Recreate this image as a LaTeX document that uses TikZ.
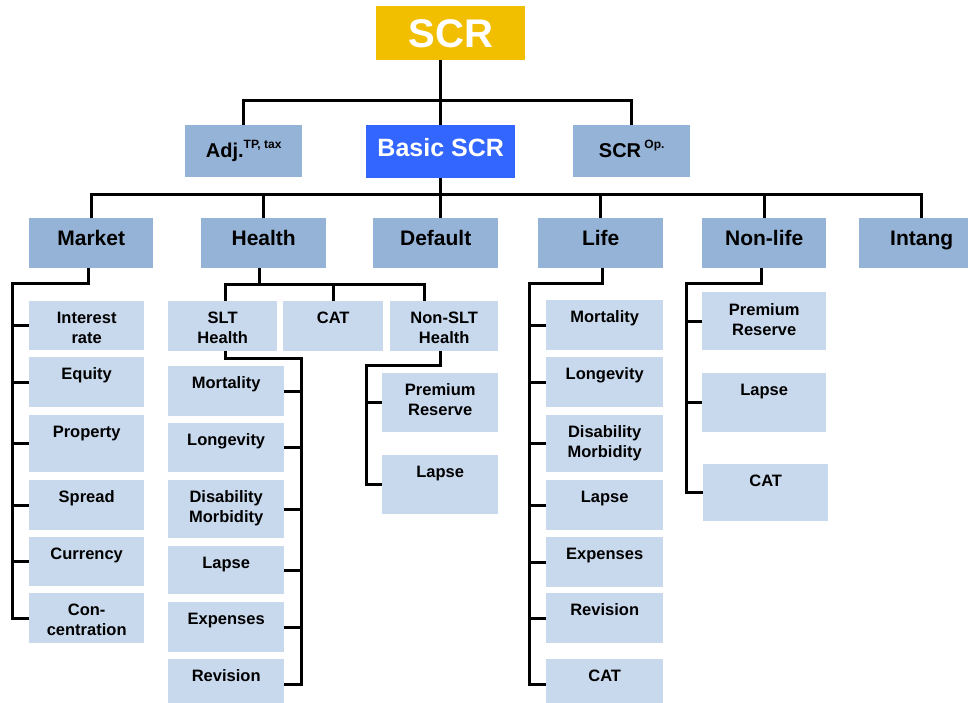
\documentclass[tikz,border=0pt]{standalone}
\usepackage{fontspec}
\setmainfont{Liberation Sans}
\usepackage{tikz}
\usetikzlibrary{calc}
\definecolor{scrgold}{HTML}{F2BE00}
\definecolor{basicblue}{HTML}{3366FF}
\definecolor{modfill}{HTML}{95B3D7}
\definecolor{subfill}{HTML}{C9D9ED}
\newcommand{\upidx}[1]{\raisebox{9.5pt}{\fontsize{12}{12}\selectfont #1}}

\begin{document}
\begin{tikzpicture}[x=1pt, y=-1pt,
  font=\bfseries,
  bx/.style={anchor=north west, inner sep=0pt, align=center},
  top/.style={bx, fill=modfill, minimum width=117pt, text height=32.5pt, text depth=19.5pt,
    font=\fontsize{20}{24}\selectfont\bfseries},
  mod/.style={bx, fill=modfill, minimum width=125pt, text height=27pt, text depth=23pt,
    font=\fontsize{21}{25}\selectfont\bfseries},
  kid/.style={bx, fill=subfill, minimum width=116pt, text height=22pt, text depth=#1,
    font=\fontsize{16.5}{20.5}\selectfont\bfseries},
  kid/.default=28pt,
  twoline/.style={text height=42.5pt, text depth=#1},
  wire/.style={line width=3pt}]
\useasboundingbox (0,0) rectangle (968,702);

% top levels
\node[bx, fill=scrgold, text=white, minimum width=149pt, text height=41pt, text depth=13pt,
  font=\fontsize{40}{44}\selectfont\bfseries](scr) at (376,6) {SCR};
\node[top](adj) at (185,125) {Adj.\upidx{TP, tax}};
\node[bx, fill=basicblue, text=white, minimum width=149pt, text height=31.5pt, text depth=21.5pt,
  font=\fontsize{25}{29}\selectfont\bfseries](basic) at (366,125) {Basic SCR};
\node[top](op) at (573,125) {SCR\,\upidx{Op.}};

\node[mod, minimum width=124pt](market) at (29,218) {Market};
\node[mod](health) at (201,218) {Health};
\node[mod](default) at (373,218) {Default};
\node[mod](life) at (538,218) {Life};
\node[mod, minimum width=124pt](nonlife) at (702,218) {Non-life};
\node[mod](intang) at (859,218) {Intang};

% market
\node[kid, twoline=6.5pt, minimum width=115pt](mk1) at (29,301) {Interest\\rate};
\node[kid, minimum width=115pt](mk2) at (29,357) {Equity};
\node[kid=35pt, minimum width=115pt](mk3) at (29,415) {Property};
\node[kid, minimum width=115pt](mk4) at (29,480) {Spread};
\node[kid=27pt, minimum width=115pt](mk5) at (29,537) {Currency};
\node[kid, twoline=7.5pt, minimum width=115pt](mk6) at (29,593) {Con-\\centration};

% health
\node[kid, twoline=7.5pt, minimum width=109pt](slt) at (168,301) {SLT\\Health};
\node[kid, minimum width=100pt](hcat) at (283,301) {CAT};
\node[kid, twoline=7.5pt, minimum width=108pt](nslt) at (390,301) {Non-SLT\\Health};

\node[kid](sl1) at (168,366) {Mortality};
\node[kid=27pt](sl2) at (168,423) {Longevity};
\node[kid, twoline=15.5pt](sl3) at (168,480) {Disability\\Morbidity};
\node[kid=26pt](sl4) at (168,546) {Lapse};
\node[kid](sl5) at (168,602) {Expenses};
\node[kid](sl6) at (168,659) {Revision};

\node[kid, twoline=16.5pt](ns1) at (382,373) {Premium\\Reserve};
\node[kid=37pt](ns2) at (382,455) {Lapse};

% life
\node[kid, minimum width=117pt](lf1) at (546,300) {Mortality};
\node[kid, minimum width=117pt](lf2) at (546,357) {Longevity};
\node[kid, twoline=14.5pt, minimum width=117pt](lf3) at (546,415) {Disability\\Morbidity};
\node[kid, minimum width=117pt](lf4) at (546,480) {Lapse};
\node[kid, minimum width=117pt](lf5) at (546,537) {Expenses};
\node[kid, minimum width=117pt](lf6) at (546,593) {Revision};
\node[kid, minimum width=117pt](lf7) at (546,659) {CAT};

% non-life
\node[kid, text height=43.5pt, text depth=14.5pt, minimum width=124pt](nl1) at (702,292) {Premium\\Reserve};
\node[kid=37pt, minimum width=124pt](nl2) at (702,373) {Lapse};
\node[kid=35pt, minimum width=125pt](nl3) at (703,464) {CAT};

% tree lines
\coordinate (j1) at (440,100);
\coordinate (j2) at (440,194);
\draw[wire](basic.north |- scr.south)--(basic.north);
\draw[wire](adj.north)|-(j1)-|(op.north);
\draw[wire](basic.south)--(basic.south |- default.north);
\draw[wire](market.north)|-(j2)-|(intang.north);
\foreach \m in {health, life, nonlife}
  {\draw[wire](\m.north)--(\m.north |- j2);}

\coordinate (mkr) at (12,283);
\draw[wire]([xshift=-3pt]market.south)|-(mkr)|-(mk6.west);
\foreach \b in {mk1,mk2,mk3,mk4,mk5}
  {\draw[wire](\b.west)--(\b.west -| mkr);}

\coordinate (hj) at (259,284);
\draw[wire](health.south -| hj)--(hj);
\draw[wire]([xshift=3pt]slt.north)|-(hj)-|([xshift=-20pt]nslt.north);
\draw[wire](hcat.north)--(hcat.north |- hj);

\coordinate (slr) at (301,358);
\draw[wire]([xshift=3pt]slt.south)|-(slr)|-(sl6.east);
\foreach \b in {sl1,sl2,sl3,sl4,sl5}
  {\draw[wire](\b.east)--(\b.east -| slr);}

\coordinate (nsr) at (366,365);
\draw[wire]([xshift=-4pt]nslt.south)|-(nsr)|-(ns2.west);
\draw[wire](ns1.west)--(ns1.west -| nsr);

\coordinate (lfr) at (529,283);
\draw[wire]([xshift=2pt]life.south)|-(lfr)|-(lf7.west);
\foreach \b in {lf1,lf2,lf3,lf4,lf5,lf6}
  {\draw[wire](\b.west)--(\b.west -| lfr);}

\coordinate (nlr) at (686,283);
\draw[wire]([xshift=-3pt]nonlife.south)|-(nlr)|-(nl3.west);
\foreach \b in {nl1,nl2}
  {\draw[wire](\b.west)--(\b.west -| nlr);}

\end{tikzpicture}
\end{document}
